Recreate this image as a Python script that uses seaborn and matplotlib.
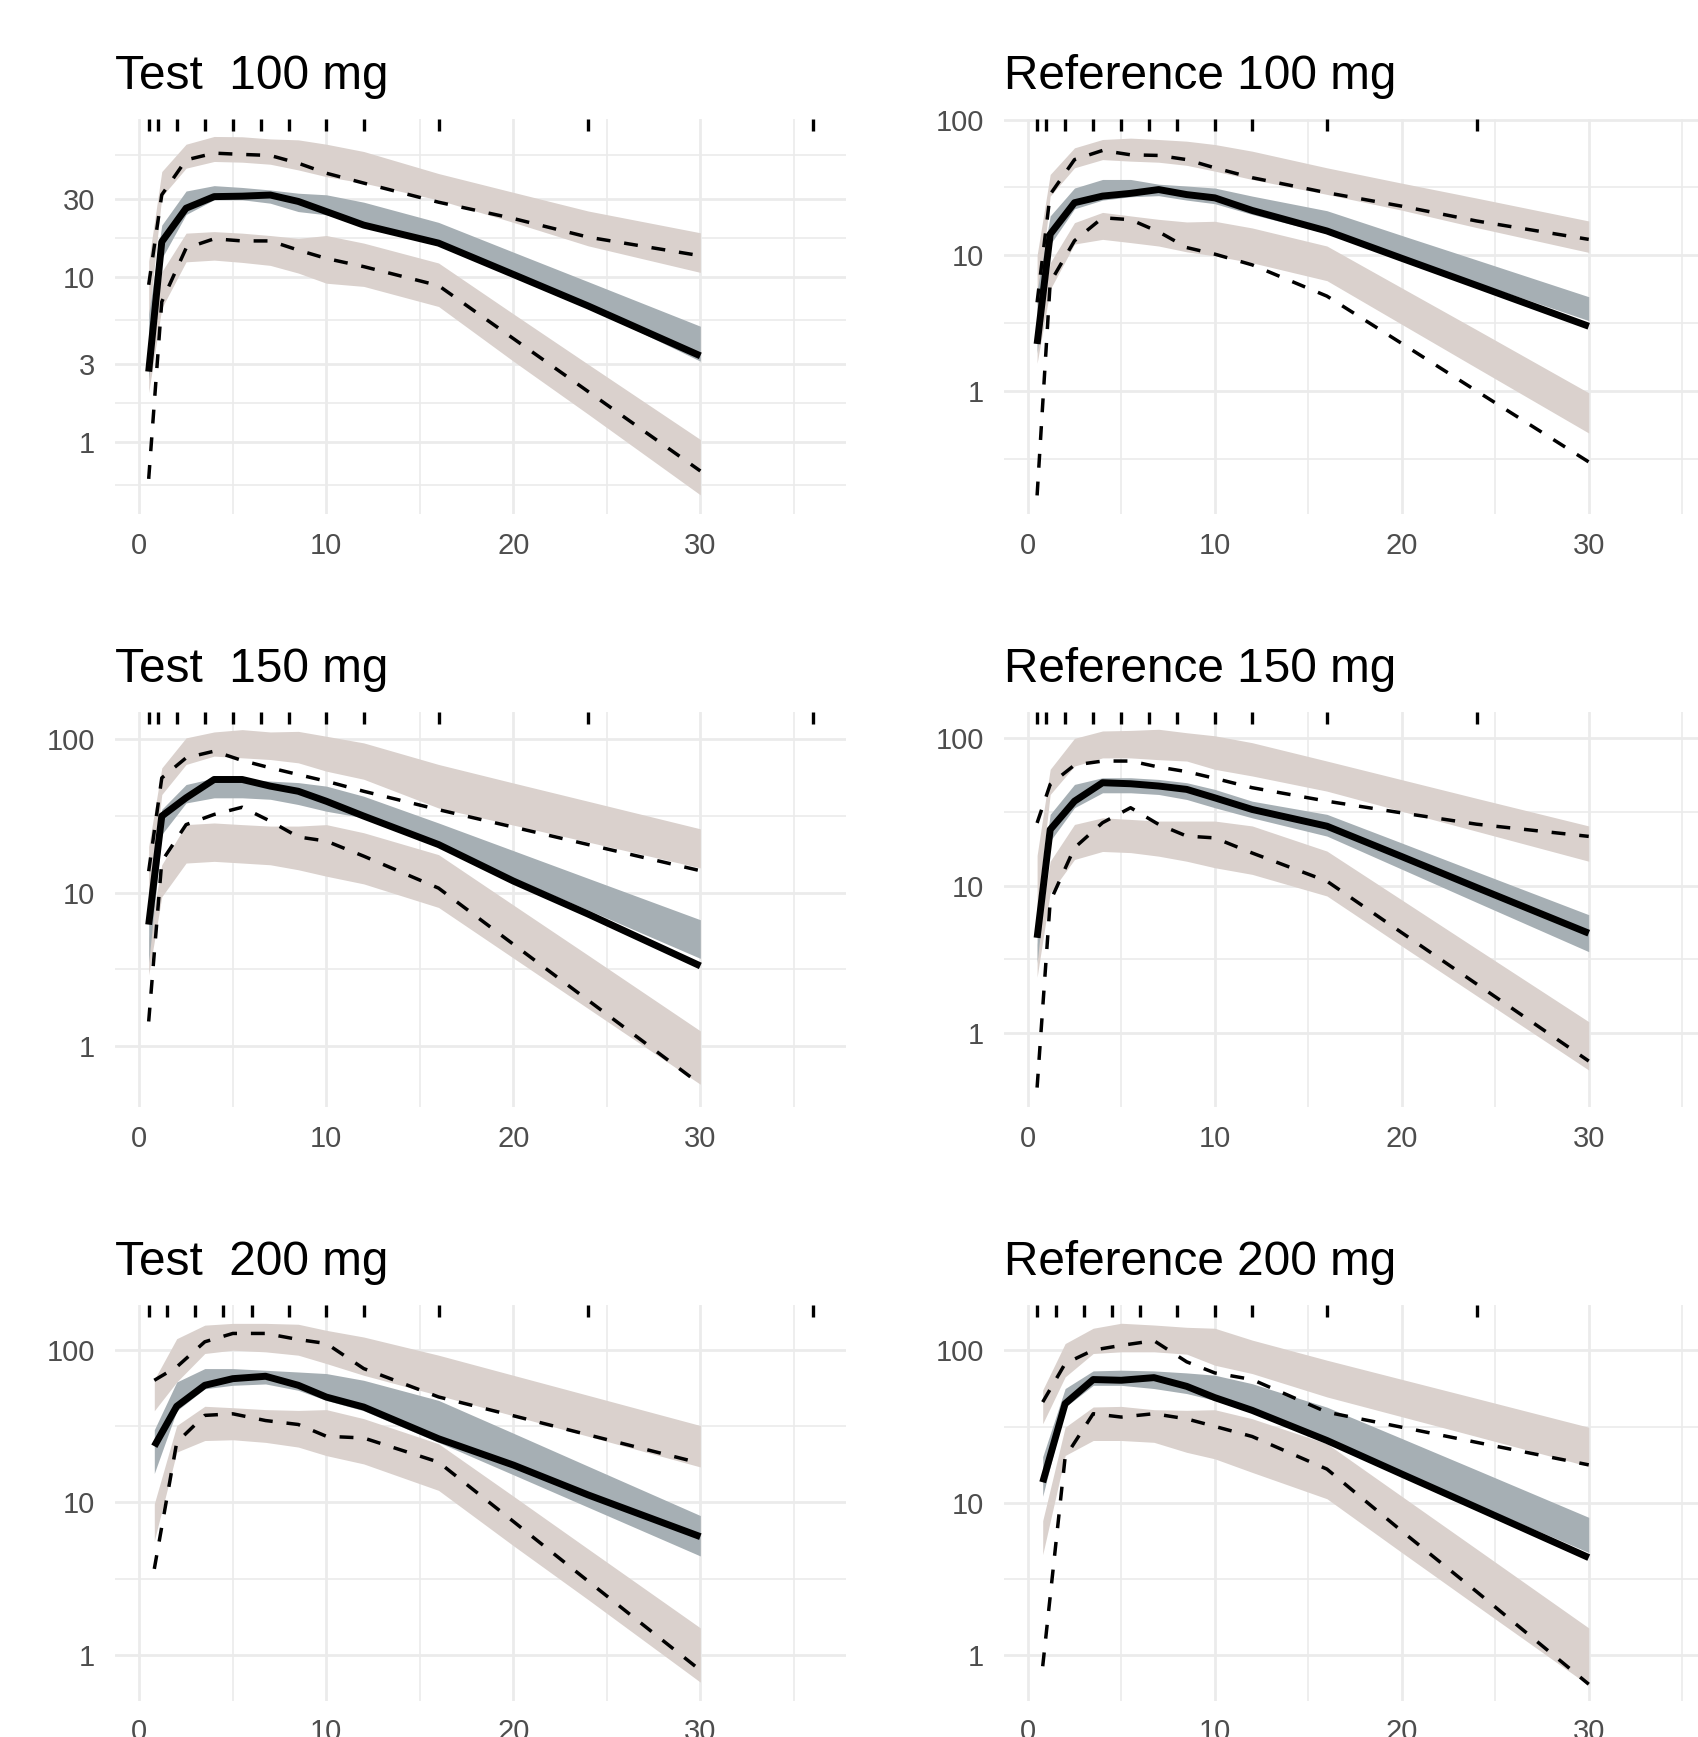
import numpy as np
import seaborn as sns
import matplotlib.pyplot as plt
from matplotlib.ticker import FixedLocator, FuncFormatter, NullFormatter

# bin midpoints (h) used by the curves
times_a = [0.5, 1.2, 2.5, 4, 5.5, 7, 8.5, 10, 12, 16, 20, 24, 30]
times_b = [0.8, 2, 3.5, 5, 6.75, 8.5, 10, 12, 16, 20, 24, 30]

# bin separators shown as rug on top
rug_a = [0.5, 1, 2, 3.5, 5, 6.5, 8, 10, 12, 16, 24, 36]
rug_b = [0.5, 1.5, 3, 4.5, 6, 8, 10, 12, 16, 24, 36]

titles = ["Test  100 mg", "Reference 100 mg",
          "Test  150 mg", "Reference 150 mg",
          "Test  200 mg", "Reference 200 mg"]

# ---- Test 100 mg ----
t100_obs50 = [2.68, 16.4, 26.2, 30.8, 31.0, 31.5, 28.8, 25.0, 20.7, 16.1, 10.4, 6.7, 3.34]
t100_obs95 = [9.0, 31.6, 51.4, 56.5, 55.5, 54.7, 49.1, 42.7, 37.2, 28.5, 22.7, 17.5, 13.5]
t100_obs05 = [0.6, 7.1, 15.0, 17.1, 16.6, 16.6, 14.6, 13.0, 11.6, 8.9, 4.25, 2.03, 0.67]
t100_p95_hi = [12.5, 43.7, 64, 71.3, 71, 68.9, 68, 64, 57.8, 42.5, 32.7, 25.2, 18.6]
t100_p95_lo = [5.5, 30.8, 45.8, 50.3, 49.8, 48.4, 44.7, 40.7, 37.2, 29.4, 21.5, 15.5, 10.7]
t100_p50_hi = [6.0, 20.7, 33.3, 35.9, 35.0, 33.8, 32.3, 31.6, 28.5, 21.5, 14.2, 9.4, 5.05]
t100_p50_lo = [2.4, 13.0, 24.0, 29.5, 29.5, 28.1, 25.0, 23.9, 21.0, 15.7, 10.5, 6.6, 3.1]
t100_p05_hi = [3.2, 10.8, 18.5, 18.9, 18.5, 17.9, 17.2, 17.9, 16.1, 12.2, 6.0, 2.97, 1.04]
t100_p05_lo = [2.0, 6.5, 12.4, 12.7, 12.3, 11.8, 10.6, 9.2, 8.8, 6.65, 3.1, 1.48, 0.48]

# ---- Reference 100 mg ----
r100_obs50 = [2.22, 14.3, 24.4, 27.3, 28.6, 30.5, 28.0, 26.5, 21.4, 15.1, 9.5, 6.0, 3.0]
r100_obs95 = [4.5, 28.1, 50.7, 59.2, 55.0, 54.4, 50.7, 44.1, 37.3, 28.9, 23.0, 17.9, 13.1]
r100_obs05 = [0.17, 6.3, 12.8, 18.9, 18.3, 14.9, 11.4, 10.2, 8.5, 5.0, 2.24, 1.0, 0.30]
r100_p95_hi = [10, 39.4, 61.9, 71.3, 73, 71.3, 69.3, 65.5, 58.5, 44.1, 34.0, 26.4, 17.9]
r100_p95_lo = [3.8, 27.3, 44.1, 50.7, 49.4, 48.5, 46.0, 41.7, 36.2, 28.1, 21.5, 16.0, 10.5]
r100_p50_hi = [5.5, 19.5, 31.3, 36.2, 36.2, 33.4, 32.4, 31.3, 27.3, 21.3, 14.0, 9.25, 4.95]
r100_p50_lo = [1.9, 12.0, 22.0, 25.5, 27.0, 27.5, 25.5, 24.0, 20.0, 14.5, 10.0, 6.3, 3.3]
r100_p05_hi = [2.6, 8.8, 17.4, 20.7, 19.5, 18.4, 17.6, 17.8, 15.9, 11.7, 5.75, 2.83, 0.97]
r100_p05_lo = [1.6, 5.6, 12.1, 13.1, 12.4, 11.7, 10.6, 9.9, 8.8, 6.5, 3.1, 1.48, 0.49]

# ---- Test 150 mg ----
t150_obs50 = [6.18, 31.6, 41.6, 54.8, 54.8, 49.6, 45.9, 39.5, 31.6, 20.6, 11.9, 7.24, 3.32]
t150_obs95 = [13.8, 56.1, 75.9, 83.9, 72.9, 65.3, 59.0, 53.4, 45.9, 34.8, 26.8, 20.6, 13.9]
t150_obs05 = [1.44, 16.0, 27.8, 32.4, 36.1, 29.3, 23.1, 21.7, 17.3, 10.7, 4.6, 1.98, 0.56]
t150_p95_hi = [20, 65.2, 102.5, 112, 116, 112, 113, 105, 95, 68.7, 52, 39.5, 26.1]
t150_p95_lo = [8, 43.7, 68.7, 77.9, 75.9, 74, 70.4, 62.1, 55, 35.7, 27.6, 21.4, 14.5]
t150_p50_hi = [10, 35, 50.8, 56, 54.8, 53.5, 52.3, 49.6, 42.6, 28.5, 18.8, 12.4, 6.65]
t150_p50_lo = [3.5, 24, 38.5, 41.6, 41.6, 40.7, 37.6, 34.0, 30.8, 20.3, 12.5, 7.7, 3.72]
t150_p05_hi = [5.0, 15.2, 27.8, 28.5, 27.8, 27.2, 27.2, 27.8, 24.6, 17.7, 8.3, 3.9, 1.25]
t150_p05_lo = [2.9, 9.4, 15.6, 16.0, 15.6, 15.2, 14.1, 12.8, 11.4, 8.0, 3.74, 1.75, 0.56]

# ---- Reference 150 mg ----
r150_obs50 = [4.43, 23.9, 37.2, 49.6, 48.8, 47.1, 44.7, 39.2, 32.7, 25.2, 15.7, 9.7, 4.76]
r150_obs95 = [26.5, 48.3, 65.3, 69.5, 69.5, 63.3, 58.9, 53.1, 45.9, 37.2, 31.0, 26.0, 21.5]
r150_obs05 = [0.43, 7.8, 18.0, 26.6, 33.6, 25.9, 21.6, 21.0, 16.6, 10.7, 4.8, 2.16, 0.65]
r150_p95_hi = [16, 61.1, 99, 111, 112, 114, 108, 103, 92.5, 69.5, 52, 38.9, 25.3]
r150_p95_lo = [7, 41.3, 64.3, 73, 73, 71, 69.5, 61.1, 55.1, 43.5, 31.8, 23.3, 14.6]
r150_p50_hi = [7, 30.3, 48.3, 53.6, 53.6, 52.2, 49.6, 44.7, 37.2, 30.3, 19.4, 12.4, 6.35]
r150_p50_lo = [3, 20, 33.6, 42.4, 42.4, 41.3, 38.2, 33.6, 28.7, 21.6, 12.9, 7.7, 3.57]
r150_p05_hi = [4, 14.6, 25.9, 28.7, 28.0, 27.3, 27.3, 27.3, 25.3, 17.1, 8.0, 3.74, 1.2]
r150_p05_lo = [2.4, 8.9, 15.0, 17.0, 16.7, 15.8, 14.6, 13.2, 11.9, 8.5, 3.9, 1.8, 0.565]

# ---- Test 200 mg ----
t200_obs50 = [23.4, 42.8, 58.8, 65, 67.4, 58.8, 49.2, 42.3, 26.2, 17.6, 11.2, 5.96]
t200_obs95 = [63.4, 77.6, 113.5, 128.8, 128.8, 117.5, 110.6, 75.7, 49.3, 37.1, 27.8, 18.1]
t200_obs05 = [3.66, 24.8, 37.3, 38.2, 34.5, 32.5, 27.2, 26.5, 18.4, 7.5, 3.04, 0.79]
t200_p95_hi = [64, 119, 146, 150, 150, 148, 135, 122, 92.7, 68.4, 50.5, 32]
t200_p95_lo = [40, 61.8, 95.1, 100, 97.5, 92.7, 81.7, 68.4, 50.5, 37.1, 27.2, 17.1]
t200_p50_hi = [30, 61.8, 75.7, 75.7, 73.8, 71.9, 70.2, 63.4, 46.8, 28.5, 17.3, 8.2]
t200_p50_lo = [15.5, 40, 55.8, 58.8, 60, 54.5, 46.8, 40, 24.8, 15.2, 9.3, 4.45]
t200_p05_hi = [9.8, 32, 42.8, 41.9, 40.7, 40.2, 40.7, 35.5, 24.3, 11, 4.95, 1.5]
t200_p05_lo = [5.6, 21.4, 25.5, 25.8, 24.8, 23.1, 20.3, 17.9, 12.0, 5.2, 2.3, 0.66]

# ---- Reference 200 mg ----
r200_obs50 = [13.6, 44.7, 64.4, 63.7, 66.3, 58.1, 49, 40.4, 25.6, 15.4, 9.3, 4.35]
r200_obs95 = [45.8, 82, 100.5, 108, 116, 84.2, 71.2, 64.4, 39.3, 31.3, 24.9, 17.7]
r200_obs05 = [0.84, 19.9, 38.4, 36.5, 38.4, 35.5, 31.7, 27.2, 16.6, 6.5, 2.6, 0.64]
r200_p95_hi = [55, 111, 140, 151, 147, 142, 140, 117, 86.3, 64.6, 48.4, 31.3]
r200_p95_lo = [33, 67, 95.5, 98, 98, 94.6, 80, 70.5, 49.5, 36.7, 27.2, 17.3]
r200_p50_hi = [20, 56.2, 73.4, 74.2, 73.4, 71.2, 68.8, 60.5, 42.4, 26.4, 16.4, 8.0]
r200_p50_lo = [11, 42.4, 59, 59, 56.2, 52.1, 47, 39.4, 25.6, 15.8, 9.7, 4.7]
r200_p05_hi = [7.6, 31.3, 42.5, 42.9, 40.8, 40.4, 40.8, 35.6, 24.4, 11, 4.96, 1.5]
r200_p05_lo = [4.55, 20.4, 25.6, 25.6, 24.9, 21.4, 19.4, 15.8, 10.6, 4.7, 2.1, 0.63]

# y range and breaks per panel
ylim_lo = [0.365, 0.123, 0.397, 0.317, 0.5, 0.5]
ylim_hi = [91, 101, 152, 150, 198, 199]
ybreaks_a = [0.3, 1, 3, 10, 30, 100]
ybreaks_b = [0.1, 1, 10, 100, 1000]

panels = [
    (times_a, rug_a, t100_obs05, t100_obs50, t100_obs95, t100_p05_lo, t100_p05_hi,
     t100_p50_lo, t100_p50_hi, t100_p95_lo, t100_p95_hi, ybreaks_a),
    (times_a, rug_a, r100_obs05, r100_obs50, r100_obs95, r100_p05_lo, r100_p05_hi,
     r100_p50_lo, r100_p50_hi, r100_p95_lo, r100_p95_hi, ybreaks_b),
    (times_a, rug_a, t150_obs05, t150_obs50, t150_obs95, t150_p05_lo, t150_p05_hi,
     t150_p50_lo, t150_p50_hi, t150_p95_lo, t150_p95_hi, ybreaks_b),
    (times_a, rug_a, r150_obs05, r150_obs50, r150_obs95, r150_p05_lo, r150_p05_hi,
     r150_p50_lo, r150_p50_hi, r150_p95_lo, r150_p95_hi, ybreaks_b),
    (times_b, rug_b, t200_obs05, t200_obs50, t200_obs95, t200_p05_lo, t200_p05_hi,
     t200_p50_lo, t200_p50_hi, t200_p95_lo, t200_p95_hi, ybreaks_b),
    (times_b, rug_b, r200_obs05, r200_obs50, r200_obs95, r200_p05_lo, r200_p05_hi,
     r200_p50_lo, r200_p50_hi, r200_p95_lo, r200_p95_hi, ybreaks_b),
]

pi_fill = "#DAD1CD"
med_fill = "#A6AFB4"
grid_col = "#EBEBEB"

sns.set_theme(style="white")
plt.rcParams['font.family'] = ['Liberation Sans', 'DejaVu Sans']

fig = plt.figure(figsize=(16.99, 17.37), dpi=100)

lefts = [0.06798, 0.59088]
bottoms = [0.7038, 0.3626, 0.0210]
w, h = 0.4298, 0.2277

for i, p in enumerate(panels):
    (t, rug, o05, o50, o95, a_lo, a_hi, m_lo, m_hi, b_lo, b_hi, yb) = p
    ax = fig.add_axes([lefts[i % 2], bottoms[i // 2], w, h])

    # simulated intervals
    ax.fill_between(t, b_lo, b_hi, color=pi_fill, linewidth=0, zorder=2)
    ax.fill_between(t, a_lo, a_hi, color=pi_fill, linewidth=0, zorder=2)
    ax.fill_between(t, m_lo, m_hi, color=med_fill, linewidth=0, zorder=3)

    # observed percentiles
    for vals in (o05, o95):
        sns.lineplot(x=t, y=vals, ax=ax, color="black", linewidth=2.5,
                     linestyle=(0, (4, 4)), dash_capstyle="butt",
                     estimator=None, sort=False, zorder=4)
    sns.lineplot(x=t, y=o50, ax=ax, color="black", linewidth=5,
                 solid_capstyle="butt", estimator=None, sort=False, zorder=5)

    # rug at top
    ax.vlines(rug, 0.97, 1.0, transform=ax.get_xaxis_transform(),
              color="black", linewidth=2.4, zorder=5)

    ax.set_yscale("log")
    lo = min(rug_a + rug_b)
    hi = max(rug_a + rug_b)
    pad = (hi - lo) * 0.05
    ax.set_xlim(lo - pad, hi + pad)
    ax.set_ylim(ylim_lo[i], ylim_hi[i])

    ax.xaxis.set_major_locator(FixedLocator([0, 10, 20, 30, 40]))
    ax.xaxis.set_minor_locator(FixedLocator([5, 15, 25, 35]))
    ax.yaxis.set_major_locator(FixedLocator(yb))
    ax.yaxis.set_minor_locator(FixedLocator(list(np.sqrt(np.array(yb[:-1]) * np.array(yb[1:])))))
    ax.yaxis.set_major_formatter(FuncFormatter(lambda v, pos: "%g" % v))
    ax.yaxis.set_minor_formatter(NullFormatter())

    ax.grid(which="major", color=grid_col, linewidth=2.0)
    ax.grid(which="minor", color=grid_col, linewidth=1.2)
    ax.set_axisbelow(True)
    for s in ax.spines.values():
        s.set_visible(False)

    ax.tick_params(axis="both", which="both", length=0, labelsize=21,
                   labelcolor="#4D4D4D")
    ax.tick_params(axis="x", pad=12.5)
    ax.tick_params(axis="y", pad=14.5)
    ax.set_xlabel("")
    ax.set_ylabel("")
    ax.set_title(titles[i], loc="left", fontsize=34.4, pad=21.5, color="black")

fig.savefig("out.png", dpi=100, facecolor="white")
